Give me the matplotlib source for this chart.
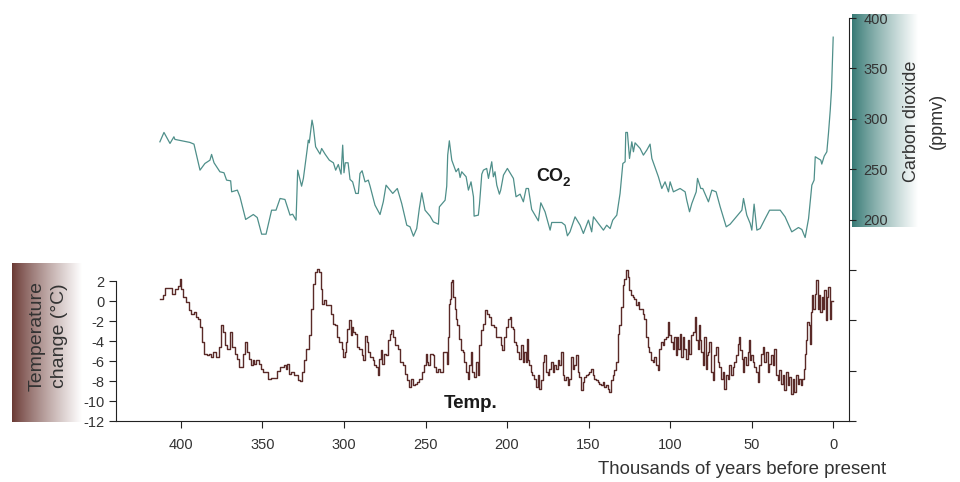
import numpy as np
import matplotlib
matplotlib.use("Agg")
import matplotlib.pyplot as plt
from matplotlib.ticker import FixedLocator, FixedFormatter

plt.rcParams['font.family'] = ['Liberation Sans', 'DejaVu Sans']

# ---------------- data ----------------
co2_age = [
    412.9, 410.4, 406.7, 404.3, 403.7, 394.5, 392.0, 388.3, 385.3, 382.2,
    381.2, 379.7, 376.1, 373.6, 372.0, 369.5, 368.9, 365.4, 363.8, 360.3,
    355.6, 353.2, 350.5, 347.8, 344.4, 341.7, 339.2, 336.2, 333.1, 331.5,
    329.4, 328.4, 326.0, 324.9, 322.5, 321.9, 321.3, 319.6, 318.8, 317.4,
    314.7, 313.7, 311.6, 309.0, 306.5, 305.1, 303.5, 301.8, 300.8, 300.0,
    299.2, 297.5, 296.3, 294.7, 292.8, 291.2, 290.2, 288.9, 287.1, 285.1,
    284.0, 281.0, 277.9, 275.9, 274.2, 270.1, 267.3, 264.6, 261.5, 259.5,
    257.4, 255.4, 253.8, 252.3, 250.3, 247.2, 245.2, 242.1, 241.5, 238.0,
    237.0, 236.4, 235.4, 233.9, 231.3, 229.8, 228.8, 227.8, 225.1, 223.7,
    222.1, 220.6, 220.2, 217.6, 216.9, 215.5, 214.5, 212.5, 211.4, 209.4,
    208.4, 207.4, 206.3, 204.7, 203.9, 202.2, 199.8, 196.1, 194.5, 192.0,
    190.0, 188.3, 186.9, 184.9, 180.8, 179.3, 176.7, 173.6, 172.6, 166.5,
    164.4, 163.0, 161.4, 158.3, 155.2, 153.2, 150.1, 148.1, 147.0, 144.0,
    140.9, 138.9, 136.8, 135.2, 132.7, 130.7, 129.0, 127.6, 127.2, 126.2,
    124.9, 123.5, 122.5, 121.5, 119.4, 118.4, 116.4, 114.3, 112.3, 111.2,
    107.2, 105.1, 103.1, 101.0, 100.0, 98.0, 93.9, 90.8, 89.8, 88.1,
    86.7, 84.0, 83.2, 81.2, 80.0, 76.5, 74.4, 71.8, 69.3, 65.6,
    63.2, 56.0, 55.0, 53.0, 50.9, 49.9, 48.5, 46.8, 44.8, 41.7,
    39.0, 32.5, 29.5, 25.4, 21.3, 19.2, 17.2, 15.1, 13.1, 11.7,
    11.0, 7.6, 7.0, 5.5, 3.9, 2.9, 1.8, 1.0, 0.5, 0.0,
]
co2_ppm = [
    277.2, 286.5, 275.6, 282.2, 279.6, 276.6, 274.9, 249.1, 255.7, 259.0,
    264.7, 256.4, 247.5, 246.5, 239.2, 238.5, 227.6, 229.3, 222.7, 200.2,
    205.1, 202.1, 185.6, 185.6, 209.4, 209.4, 221.0, 220.0, 204.5, 205.4,
    199.5, 249.1, 233.2, 240.9, 270.6, 278.9, 276.2, 298.7, 292.1, 272.3,
    265.0, 270.6, 265.0, 259.0, 256.4, 249.1, 254.7, 245.1, 273.9, 246.5,
    256.4, 256.4, 239.9, 237.5, 226.0, 226.0, 245.8, 248.5, 237.5, 239.2,
    233.2, 214.4, 205.1, 217.7, 234.2, 226.0, 230.9, 216.0, 194.5, 192.9,
    183.6, 191.2, 211.1, 226.6, 209.4, 203.5, 197.8, 195.5, 212.7, 219.3,
    233.2, 264.0, 278.2, 259.0, 247.5, 250.8, 241.8, 247.5, 242.5, 229.3,
    237.5, 222.7, 203.5, 204.5, 215.4, 245.1, 249.1, 250.8, 240.9, 257.4,
    242.5, 247.5, 234.2, 225.3, 229.3, 244.2, 250.8, 240.9, 222.7, 225.3,
    217.7, 230.9, 230.9, 210.1, 198.8, 216.7, 207.8, 189.6, 197.2, 197.2,
    194.5, 184.0, 187.9, 202.8, 194.5, 186.3, 199.5, 187.9, 202.8, 196.2,
    189.6, 194.5, 191.2, 199.5, 204.5, 226.0, 255.7, 257.4, 286.5, 286.5,
    260.7, 277.2, 267.3, 276.2, 272.3, 270.6, 264.0, 269.0, 274.9, 260.7,
    242.5, 230.9, 237.5, 227.6, 237.5, 227.6, 230.9, 227.6, 219.3, 207.8,
    216.0, 227.6, 240.9, 230.9, 230.9, 217.7, 229.3, 227.6, 212.7, 192.9,
    195.5, 209.4, 221.0, 204.5, 196.2, 189.6, 215.4, 189.6, 191.2, 201.1,
    209.4, 209.4, 202.8, 187.9, 192.2, 190.2, 182.3, 201.1, 234.2, 239.2,
    262.4, 259.0, 255.1, 263.0, 267.3, 285.5, 308.7, 330.0, 355.0, 381.0,
]

temp_age_a = [
    412.9, 411.4, 410.4, 408.8, 406.3, 404.3, 402.6, 401.0, 400.2, 399.6,
    397.5, 396.1, 394.5, 392.8, 391.4, 390.4, 388.7, 387.3, 386.3, 385.3,
    383.2, 382.2, 381.2, 379.7, 377.1, 376.1, 375.0, 374.0, 372.4, 370.9,
    368.9, 367.9, 366.2, 364.8, 363.8, 362.1, 361.3, 360.1, 358.7, 357.2,
    356.6, 355.6, 354.6, 353.2, 351.5, 350.5, 348.4, 347.4, 345.4, 344.4,
    341.7, 340.3, 337.6, 336.2, 335.2, 334.1, 333.1, 332.1, 329.0, 327.4,
    326.0, 324.9, 323.9, 322.5, 320.8, 319.6, 318.4, 317.2, 316.1, 314.7,
    313.7, 313.1, 311.6, 310.2, 309.0,
]
temp_val_a = [
    0.2, 0.2, 0.6, 1.33, 1.33, 0.77, 1.27, 1.53, 2.2, 1.2,
    0.43, -0.07, -0.9, -1.23, -1.07, -1.57, -1.73, -2.57, -4.07, -5.23,
    -5.4, -5.23, -5.57, -5.07, -5.57, -4.57, -2.4, -3.07, -4.4, -4.73,
    -3.07, -4.57, -5.23, -5.73, -6.57, -6.57, -5.23, -4.07, -5.07, -5.73,
    -6.4, -5.9, -6.23, -5.9, -6.23, -6.73, -7.07, -7.07, -7.8, -7.67,
    -7.67, -7.0, -6.57, -6.4, -6.73, -6.23, -7.23, -7.07, -7.4, -7.9,
    -8.0, -7.07, -5.9, -4.73, -3.4, -0.73, 1.77, 2.93, 3.2, 2.93,
    1.27, -0.23, 0.1, -0.4, -0.4,
]
temp_age_b = [
    308.6, 307.6, 306.1, 304.5, 303.5, 302.1, 300.8, 300.0, 298.8, 298.4,
    297.4, 296.3, 295.3, 294.7, 293.9, 292.6, 291.2, 289.8, 288.6, 287.7,
    286.5, 285.7, 284.5, 283.0, 282.0, 281.0, 280.0, 278.9, 277.9, 276.9,
    275.9, 274.9, 273.4, 272.2, 271.4, 270.8, 269.3, 267.7, 266.1, 264.6,
    263.6, 262.0, 260.5, 259.5, 258.5, 257.4, 255.8, 254.4, 253.0, 251.3,
    250.3, 249.3, 248.7, 248.1, 246.2, 245.2, 244.2, 243.2, 242.1, 240.1,
    238.7, 237.4, 236.6, 236.0, 235.4, 234.6, 234.0, 233.3, 232.5, 231.9,
    230.9, 229.9, 228.8, 227.8, 226.8, 225.8, 224.8, 223.7, 222.7, 221.7,
    220.7, 219.6, 218.6, 217.6, 216.6, 215.5, 214.1, 212.9, 211.5, 210.4,
    208.8, 207.4, 206.4,
]
temp_val_b = [
    -0.4, -1.23, -2.23, -2.4, -3.57, -4.07, -4.73, -5.57, -5.07, -4.07,
    -2.73, -1.9, -3.4, -2.57, -3.07, -3.23, -4.57, -4.73, -5.4, -5.9,
    -3.47, -4.07, -5.07, -5.57, -5.9, -6.4, -6.57, -7.4, -5.73, -4.9,
    -6.23, -5.23, -5.4, -3.9, -3.23, -2.83, -3.57, -4.4, -4.73, -6.07,
    -6.4, -7.23, -7.9, -8.57, -7.73, -8.4, -8.23, -8.07, -7.73, -7.07,
    -6.4, -5.23, -6.07, -6.4, -5.23, -5.4, -6.57, -7.07, -6.73, -7.07,
    -5.07, -5.07, -6.23, -3.57, -0.23, 0.27, 1.93, 2.1, 0.43, -0.73,
    -1.73, -2.4, -3.73, -4.9, -5.07, -6.07, -7.07, -7.73, -6.4, -5.07,
    -7.07, -7.57, -6.07, -7.4, -4.4, -2.9, -2.23, -0.9, -1.23, -1.57,
    -2.4, -2.57, -3.57,
]
temp_age_c = [
    204.3, 203.3, 202.3, 201.2, 200.2, 199.2, 197.8, 197.1, 196.1, 195.1,
    194.1, 193.1, 192.0, 191.0, 190.0, 189.0, 188.3, 187.5, 186.9, 185.9,
    184.9, 183.9, 182.8, 181.8, 180.8, 179.8, 178.7, 177.7, 176.7, 175.7,
    174.6, 173.6, 172.6, 171.6, 170.6, 169.5, 168.5, 167.5, 166.5, 165.4,
    164.4, 163.4, 162.4, 161.4, 160.3, 159.3, 158.3, 157.3, 156.2, 155.2,
    154.2, 153.2, 152.2, 151.1, 150.1, 149.1, 148.1, 147.0, 146.0, 145.0,
    144.0, 143.0, 141.9, 140.9, 139.9, 138.9, 137.8, 136.8, 135.8, 134.8,
    133.7, 132.7, 131.7, 130.7, 129.7, 128.6, 127.6, 126.6, 125.6, 124.5,
    123.5, 122.5, 121.5, 120.5, 119.4, 118.4, 117.4, 116.4, 115.3, 114.3,
    113.3, 112.3, 111.3, 110.2, 109.2, 108.2, 107.2, 106.1, 105.1, 104.1,
    103.1, 102.1, 101.0,
]
temp_val_c = [
    -3.57, -4.4, -4.9, -3.57, -2.57, -1.73, -1.57, -2.57, -2.73, -4.07,
    -4.4, -5.07, -5.73, -4.4, -6.07, -5.07, -6.07, -3.73, -5.9, -6.4,
    -7.07, -7.4, -7.73, -8.57, -7.4, -8.73, -7.9, -6.07, -5.4, -7.07,
    -7.4, -6.73, -6.07, -7.07, -6.4, -6.73, -5.9, -6.4, -5.07, -7.4,
    -7.9, -7.57, -8.4, -7.73, -5.57, -6.73, -6.4, -5.4, -7.07, -7.57,
    -8.9, -8.07, -7.57, -7.4, -7.23, -7.07, -6.73, -7.4, -7.73, -7.9,
    -8.07, -8.23, -8.4, -8.07, -8.57, -8.4, -8.73, -9.07, -7.9, -7.4,
    -6.9, -6.07, -3.23, -2.4, -0.57, 1.6, 2.27, 3.1, 2.43, 1.1,
    0.6, 0.43, 0.27, -0.4, -0.07, -0.73, -0.73, -1.23, -1.73, -3.57,
    -4.57, -5.07, -5.9, -6.07, -5.57, -6.4, -6.9, -4.73, -4.07, -4.4,
    -3.73, -3.57, -2.07,
]
temp_age_d = [
    100.0, 99.0, 98.0, 96.9, 96.3, 95.5, 94.3, 93.5, 92.6, 91.8,
    90.8, 89.8, 88.8, 87.7, 86.7, 85.3, 84.5, 83.6, 82.8, 82.0,
    81.2, 80.4, 79.6, 78.7, 77.9, 77.1, 76.3, 75.5, 74.4, 73.4,
    72.4, 71.4, 70.3, 69.3, 68.3, 67.3, 66.3, 65.2, 64.2, 63.2,
    62.2, 61.1, 60.1, 59.1, 58.1, 57.5, 56.6, 55.8, 55.0, 54.0,
    53.0, 51.9, 51.3, 50.5, 49.7, 48.9, 47.9, 46.8, 45.8, 44.8,
    43.8, 42.7, 41.7, 40.7, 39.7, 38.7, 37.6, 36.6, 35.6, 34.6,
    33.5, 32.5, 31.5, 30.5, 29.4, 28.4, 27.4, 26.4, 25.4, 24.3,
    23.3, 22.3, 21.3, 20.2, 19.2, 18.6, 17.8, 17.2, 16.2, 15.5,
    14.5, 13.7, 13.1, 12.5, 11.7, 10.8, 10.0, 9.2, 8.4, 7.6,
    6.7, 5.9, 5.1, 4.3, 3.5, 2.7, 1.8, 0.8, 0.2,
]
temp_val_d = [
    -3.4, -4.07, -4.73, -3.57, -5.4, -3.57, -4.73, -3.23, -5.57, -3.57,
    -4.73, -5.73, -3.9, -5.23, -3.4, -3.07, -1.57, -3.9, -4.73, -2.4,
    -3.9, -5.07, -6.4, -3.57, -6.73, -5.4, -5.07, -4.07, -7.07, -7.9,
    -5.4, -4.57, -6.07, -6.57, -7.73, -7.07, -8.73, -7.4, -7.73, -6.4,
    -7.4, -6.57, -6.07, -5.4, -4.23, -3.57, -4.9, -5.73, -7.07, -5.57,
    -6.4, -5.07, -3.9, -5.9, -5.4, -6.07, -6.57, -7.07, -8.07, -6.4,
    -5.23, -4.57, -6.07, -5.07, -7.07, -6.23, -5.4, -6.4, -4.73, -7.4,
    -7.9, -6.9, -8.23, -7.4, -8.9, -7.07, -8.4, -7.57, -9.23, -7.73,
    -9.07, -7.4, -8.23, -7.73, -8.4, -7.73, -6.73, -5.23, -3.9, -2.07,
    -2.4, -4.23, -1.07, 0.6, -0.73, 0.77, 2.1, -0.73, 0.6, -1.07,
    0.43, -0.73, 1.1, -1.9, 0.43, 1.43, -1.73, 0.03, 0.03,
]

x_ticks = [400, 350, 300, 250, 200, 150, 100, 50, 0]
temp_ticks = [2, 0, -2, -4, -6, -8, -10, -12]
co2_ticks = [0, 50, 100, 150, 200, 250, 300, 350, 400]
co2_labelled = [200, 250, 300, 350, 400]

temp_age = np.concatenate([temp_age_a, temp_age_b, temp_age_c, temp_age_d])
temp_val = np.concatenate([temp_val_a, temp_val_b, temp_val_c, temp_val_d])

# ---------------- layout helpers (pixels) ----------------
W, H = 960, 482
fig = plt.figure(figsize=(W / 100, H / 100), dpi=100)


def frect(x0, y0, x1, y1):
    return [x0 / W, 1 - y1 / H, (x1 - x0) / W, (y1 - y0) / H]


def gradient_box(rect, dark):
    gax = fig.add_axes(rect, zorder=-1)
    t = np.linspace(0, 1, 256) ** 0.85
    dark = np.array(dark) / 255.0
    row = dark[None, :] * (1 - t[:, None]) + np.ones(3)[None, :] * t[:, None]
    img = np.repeat(row[None, :, :], 2, axis=0)
    gax.imshow(img, aspect='auto', interpolation='bilinear')
    gax.set_axis_off()


gradient_box(frect(852, 14, 918, 227), (52, 120, 115))
gradient_box(frect(12, 263, 82, 422), (105, 55, 50))

L, R, T, B = 115.7, 849.5, 18.0, 421.3
ax = fig.add_axes(frect(L, T, R, B))
ax.patch.set_visible(False)
ax.set_xlim(440, -10)
ax.set_ylim(-12, -12 + (B - T) / 10.0)

txt_col = '#333333'
line_col = '#222222'

ax.plot(temp_age, temp_val, color='#5a2a28', lw=1.0, drawstyle='steps-mid', zorder=3)

for s in ['top', 'right']:
    ax.spines[s].set_visible(False)
ax.spines['left'].set_bounds(-12, 2)
ax.spines['left'].set_color(line_col)
ax.spines['bottom'].set_color(line_col)
ax.set_yticks(temp_ticks)
ax.set_yticklabels([str(v) for v in temp_ticks])
ax.set_xticks(x_ticks)
ax.set_xticklabels([str(v) for v in x_ticks])
ax.tick_params(axis='both', direction='out', length=5, width=0.8,
               color=line_col, labelcolor=txt_col, labelsize=10.5)
ax.tick_params(axis='x', pad=7)
ax.tick_params(axis='y', pad=3)

ax2 = ax.twinx()
ax2.set_ylim(0, 400)
ax2.plot(co2_age, co2_ppm, color='#4f8f8a', lw=0.9, zorder=3)
for s in ['top', 'left', 'bottom']:
    ax2.spines[s].set_visible(False)
ax2.spines['right'].set_color(line_col)
ax2.yaxis.set_major_locator(FixedLocator(co2_ticks))
ax2.yaxis.set_major_formatter(FixedFormatter(
    [str(v) if v in co2_labelled else '' for v in co2_ticks]))
ax2.tick_params(axis='y', direction='out', length=5, width=0.8,
                color=line_col, labelcolor=txt_col, labelsize=10.5, pad=5)


def ftext(px, py, s, **kw):
    return fig.text(px / W, 1 - py / H, s, **kw)


ftext(742, 469, 'Thousands of years before present', ha='center', va='center',
      fontsize=13.4, color=txt_col)
ftext(912, 121, 'Carbon dioxide', rotation=90, ha='center', va='center',
      fontsize=13, color=txt_col)
ftext(937, 121, '(ppmv)', rotation=90, ha='center', va='center',
      fontsize=13, color=txt_col)
ftext(37, 336, 'Temperature', rotation=90, ha='center', va='center',
      fontsize=14, color=txt_col)
ftext(60, 336, 'change (°C)', rotation=90, ha='center', va='center',
      fontsize=14, color=txt_col)

ftext(536, 181, 'CO', ha='left', va='baseline', fontsize=13, fontweight='bold',
      color='#1a1a1a')
ftext(562.5, 186, '2', ha='left', va='baseline', fontsize=9.5, fontweight='bold',
      color='#1a1a1a')
ftext(444, 408, 'Temp.', ha='left', va='baseline', fontsize=13.5,
      fontweight='bold', color='#1a1a1a')

fig.savefig('out.png', dpi=100)
